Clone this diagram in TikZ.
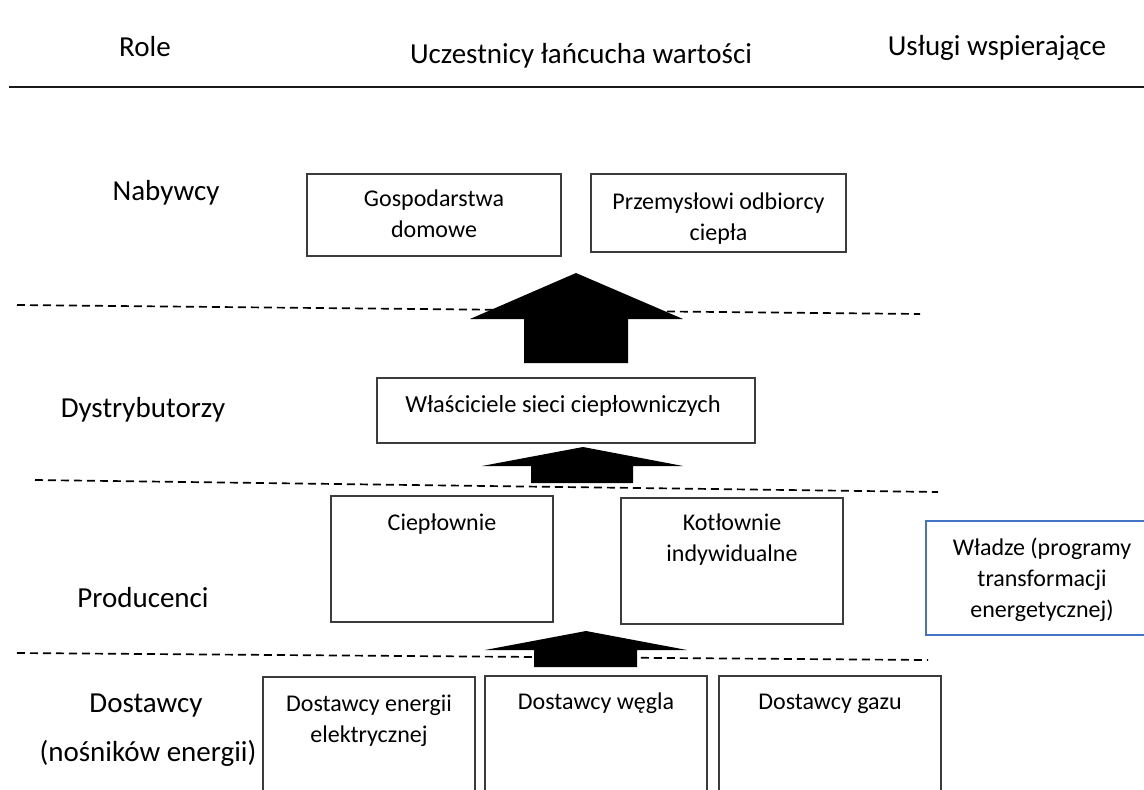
\documentclass[tikz,border=0pt]{standalone}
\usepackage{fontspec}
\setmainfont{Carlito}
\definecolor{boxgray}{HTML}{3C3C3C}
\definecolor{wblue}{HTML}{4472C4}
\begin{document}
\begin{tikzpicture}[x=1pt,y=-1pt,
  big/.style={font=\fontsize{29}{35}\selectfont, inner sep=0pt, text height=0.7em, text depth=0.2em, yshift=-6pt},
  btxt/.style={font=\fontsize{24}{31}\selectfont, inner sep=0pt, align=center},
  stxt/.style={btxt, text height=0.7em, text depth=0.2em, yshift=-5pt},
  box/.style={draw=boxgray, line width=1.4pt, inner sep=0pt},
  bluebox/.style={draw=wblue, line width=2.2pt, inner sep=0pt},
  sep/.style={draw=black, line width=1.7pt, dash pattern=on 8pt off 5pt},
  blockarrow/.style={fill=black, draw=none}]
\useasboundingbox (0,0) rectangle (1144,790);
\clip (0,0) rectangle (1144,790);
\fill[white] (0,0) rectangle (1144,790);

% header
\node[big] (hrole) at (145,48) {Role};
\node[big] (hucz) at (581,55) {Uczestnicy łańcucha wartości};
\node[big] (husl) at (997,47) {Usługi wspierające};
\coordinate (hl1) at (9,87);
\coordinate (hl2) at (1144,87);
\draw[line width=1.5pt, color=black!90] (hl1) -- (hl2);

% role labels
\node[big] (lnab) at (166,192) {Nabywcy};
\node[big] (ldys) at (143,409) {Dystrybutorzy};
\node[big] (lpro) at (143,599) {Producenci};
\node[big] (ldos) at (146,704) {Dostawcy};
\node[big] (lnos) at (148,753) {(nośników energii)};

% dashed separators
\coordinate (s1a) at (17,305);  \coordinate (s1b) at (920,314);
\coordinate (s2a) at (35,480);  \coordinate (s2b) at (938,492);
\coordinate (s3a) at (17,653);  \coordinate (s3b) at (928,660);
\draw[sep] (s1a) -- (s1b);
\draw[sep] (s2a) -- (s2b);
\draw[sep] (s3a) -- (s3b);

% buyers
\node[box, minimum width=254pt, minimum height=82pt] (gosp) at (434,215) {};
\node[btxt] (tgosp) at (434,214) {Gospodarstwa\\domowe};
\node[box, minimum width=255pt, minimum height=78pt] (przem) at (718.5,213) {};
\node[btxt] (tprzem) at (718.5,219) {Przemysłowi odbiorcy\\ciepła};

% distributors
\node[box, minimum width=378pt, minimum height=65pt] (wlas) at (566,410.5) {};
\node[stxt, font=\fontsize{24.5}{31}\selectfont] (twlas) at (563,405) {Właściciele sieci ciepłowniczych};

% producers
\node[box, minimum width=222pt, minimum height=126pt] (ciep) at (442,559) {};
\node[stxt] (tciep) at (442,523) {Ciepłownie};
\node[box, minimum width=222pt, minimum height=126pt] (kotl) at (732,561) {};
\node[btxt] (tkotl) at (732,539.5) {Kotłownie\\indywidualne};

% authorities
\node[bluebox, minimum width=224pt, minimum height=114pt] (wladze) at (1038,578) {};
\node[btxt] (twladze) at (1042,579.5) {Władze (programy\\transformacji\\energetycznej)};

% suppliers
\node[box, minimum width=212pt, minimum height=140pt] (dee) at (369,747) {};
\node[btxt] (tdee) at (369,720.5) {Dostawcy energii\\elektrycznej};
\node[box, minimum width=222pt, minimum height=140pt] (dwe) at (596,746) {};
\node[stxt] (tdwe) at (596,702) {Dostawcy węgla};
\node[box, minimum width=222pt, minimum height=140pt] (dga) at (830,746) {};
\node[stxt] (tdga) at (830,702) {Dostawcy gazu};

% block arrows
\fill[blockarrow] (576,273) -- (683,319) -- (628,319) -- (628,363) -- (524,363) -- (524,319) -- (470,319) -- cycle;
\fill[blockarrow] (583,447) -- (683,466) -- (633,466) -- (633,483) -- (531,483) -- (531,466) -- (482,466) -- cycle;
\fill[blockarrow] (586,631) -- (687,650) -- (637,650) -- (637,667) -- (534,667) -- (534,650) -- (485,650) -- cycle;
\end{tikzpicture}
\end{document}
